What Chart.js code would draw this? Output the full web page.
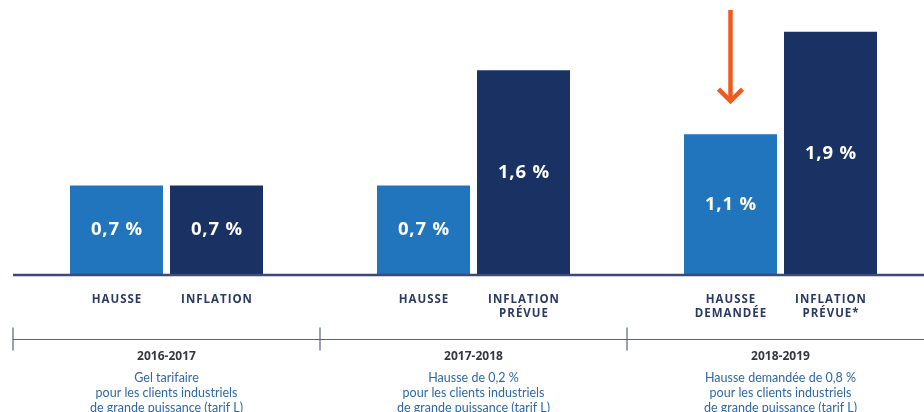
<!DOCTYPE html>
<html>
<head>
<meta charset="utf-8">
<script src="https://cdn.jsdelivr.net/npm/chart.js@4.4.1/dist/chart.umd.min.js"></script>
<style>
  html, body { margin: 0; padding: 0; background: #ffffff; overflow: hidden; }
  #wrap { width: 934px; height: 412px; }
</style>
</head>
<body>
<div id="wrap"><canvas id="c" width="934" height="412"></canvas></div>
<script>
// ---- data ----
const years = ["2016-2017", "2017-2018", "2018-2019"];
const hausseValues = [0.7, 0.7, 1.1];
const inflationValues = [0.7, 1.6, 1.9];
const hausseLabels = [["HAUSSE"], ["HAUSSE"], ["HAUSSE", "DEMANDÉE"]];
const inflationLabels = [["INFLATION"], ["INFLATION", "PRÉVUE"], ["INFLATION", "PRÉVUE*"]];
const descriptions = [
  ["Gel tarifaire", "pour les clients industriels", "de grande puissance (tarif L)"],
  ["Hausse de 0,2 %", "pour les clients industriels", "de grande puissance (tarif L)"],
  ["Hausse demandée de 0,8 %", "pour les clients industriels", "de grande puissance (tarif L)"]
];
const highlightIndex = 2; // arrow over requested increase

const fmt = v => v.toFixed(1).replace('.', ',') + ' %';

const LIGHT = '#2175bc';
const DARK = '#1a3163';

const overlay = {
  id: 'overlay',
  afterDatasetsDraw(chart) {
    const ctx = chart.ctx;
    const y = chart.scales.y, x = chart.scales.x;
    const area = chart.chartArea;
    const y0 = y.getPixelForValue(0);
    ctx.save();
    // baseline
    ctx.strokeStyle = '#3b4a78';
    ctx.lineWidth = 2.5;
    ctx.beginPath();
    ctx.moveTo(area.left, y0);
    ctx.lineTo(area.right, y0);
    ctx.stroke();

    // value labels inside bars
    ctx.fillStyle = '#ffffff';
    ctx.font = '700 18.5px "Open Sans", sans-serif';
    ctx.letterSpacing = '0.8px';
    ctx.textAlign = 'center';
    ctx.textBaseline = 'middle';
    chart.data.datasets.forEach((ds, di) => {
      chart.getDatasetMeta(di).data.forEach((bar, i) => {
        const cy = (bar.y + bar.base) / 2;
        ctx.fillText(fmt(ds.data[i]), bar.x + 0.4, cy);
      });
    });

    // category labels under bars
    ctx.fillStyle = '#2b3a63';
    ctx.font = '700 11.5px "Open Sans", sans-serif';
    ctx.letterSpacing = '1px';
    const labelSets = [hausseLabels, inflationLabels];
    chart.data.datasets.forEach((ds, di) => {
      chart.getDatasetMeta(di).data.forEach((bar, i) => {
        labelSets[di][i].forEach((line, li) => {
          ctx.fillText(line, bar.x + 0.5, y0 + 25 + li * 14);
        });
      });
    });
    ctx.letterSpacing = '0px';

    // separator line with ticks at category boundaries
    const catW = x.getPixelForValue(1) - x.getPixelForValue(0);
    const sepY = y0 + 64.5;
    ctx.strokeStyle = '#55638a';
    ctx.lineWidth = 1.2;
    ctx.beginPath();
    ctx.moveTo(area.left, sepY);
    ctx.lineTo(area.right, sepY);
    for (let i = 0; i <= years.length; i++) {
      const bx = x.getPixelForValue(0) - catW / 2 + i * catW;
      ctx.moveTo(bx, sepY - 12);
      ctx.lineTo(bx, sepY + 11);
    }
    ctx.stroke();

    // years and descriptions
    years.forEach((yr, i) => {
      const cx = x.getPixelForValue(i);
      ctx.fillStyle = '#33383f';
      ctx.font = '700 12px "Open Sans", sans-serif';
      ctx.fillText(yr, cx, y0 + 82);
      ctx.fillStyle = '#2f68a8';
      ctx.font = '400 12.5px Lato, sans-serif';
      descriptions[i].forEach((line, li) => {
        ctx.fillText(line, cx, y0 + 103 + li * 15);
      });
    });

    // orange arrow above highlighted bar
    const hb = chart.getDatasetMeta(0).data[highlightIndex];
    const tipY = hb.y - 33;
    ctx.strokeStyle = '#f05a1e';
    ctx.lineWidth = 4.5;
    ctx.lineCap = 'butt';
    ctx.lineJoin = 'miter';
    ctx.beginPath();
    ctx.moveTo(hb.x, 10);
    ctx.lineTo(hb.x, tipY - 2);
    ctx.stroke();
    ctx.beginPath();
    ctx.moveTo(hb.x - 12, tipY - 12);
    ctx.lineTo(hb.x, tipY);
    ctx.lineTo(hb.x + 12, tipY - 12);
    ctx.stroke();
    ctx.restore();
  }
};

new Chart(document.getElementById('c'), {
  type: 'bar',
  data: {
    labels: years,
    datasets: [
      { label: 'Hausse', data: hausseValues, backgroundColor: LIGHT },
      { label: 'Inflation', data: inflationValues, backgroundColor: DARK }
    ]
  },
  options: {
    responsive: false,
    animation: false,
    events: [],
    layout: { padding: { left: 13, right: 0, top: 0, bottom: 137 } },
    categoryPercentage: 0.6515,
    barPercentage: 0.93,
    plugins: { legend: { display: false }, tooltip: { enabled: false } },
    scales: {
      x: { display: false },
      y: { display: false, min: 0, max: 2.148 }
    }
  },
  plugins: [overlay]
});
</script>
</body>
</html>
